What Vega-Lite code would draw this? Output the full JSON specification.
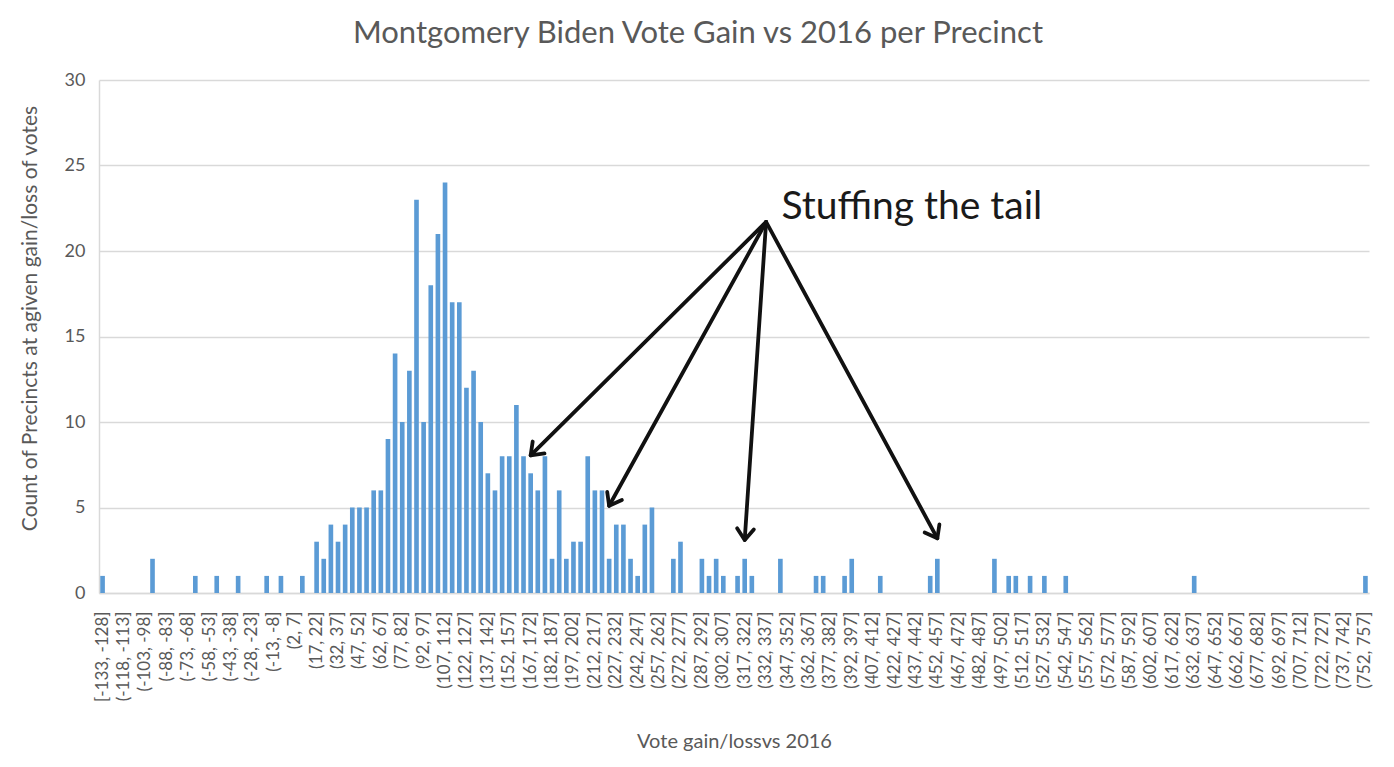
{
  "$schema": "https://vega.github.io/schema/vega-lite/v6.json",
  "width": 1270,
  "height": 513,
  "autosize": {"type": "none"},
  "padding": {"left": 99, "top": 80, "right": 25, "bottom": 174},
  "background": "white",
  "config": {"view": {"stroke": null}, "font": "Lato"},
  "title": {"text": "Montgomery Biden Vote Gain vs 2016 per Precinct", "font": "Lato", "fontSize": 31, "fontWeight": "normal", "color": "#595959", "dx": -36, "dy": 25, "offset": 22, "baseline": "alphabetic"},
  "encoding": {
    "x": {"field": "lo", "type": "ordinal", "sort": "ascending",
      "scale": {"paddingInner": 0.35, "paddingOuter": 0.175},
      "axis": {"labelAngle": -90, "labelFont": "Lato", "labelFontSize": 17, "labelColor": "#595959", "labelPadding": 18, "ticks": false, "domainColor": "#d9d9d9", "domainWidth": 1.5, "labelOverlap": false, "labelBound": false, "grid": false,
        "labelExpr": "(datum.value + 133) % 15 == 0 ? (datum.value == -133 ? '[' : '(') + datum.value + ', ' + (datum.value + 5) + ']' : ''",
        "title": "Vote gain/lossvs 2016", "titleFont": "Lato", "titleFontSize": 20, "titleFontWeight": "normal", "titleColor": "#595959", "titlePadding": 30}},
    "y": {"field": "n", "type": "quantitative",
      "scale": {"domain": [0, 30], "nice": false},
      "axis": {"values": [0, 5, 10, 15, 20, 25, 30], "grid": true, "gridColor": "#d9d9d9", "gridWidth": 1.5, "domainColor": "#d9d9d9", "domainWidth": 1.5, "ticks": false, "labelFont": "Lato", "labelFontSize": 18, "labelColor": "#595959", "labelPadding": 14,
        "title": "Count of Precincts at agiven gain/loss of votes", "titleFont": "Lato", "titleFontSize": 21, "titleFontWeight": "normal", "titleColor": "#595959", "titlePadding": 24, "titleY": 238}}
  },
  "layer": [
    {
      "data": {"values": [
        {"lo": -133, "n": 1}, {"lo": -128, "n": 0}, {"lo": -123, "n": 0}, {"lo": -118, "n": 0}, {"lo": -113, "n": 0}, {"lo": -108, "n": 0}, {"lo": -103, "n": 0}, {"lo": -98, "n": 2}, {"lo": -93, "n": 0}, {"lo": -88, "n": 0},
        {"lo": -83, "n": 0}, {"lo": -78, "n": 0}, {"lo": -73, "n": 0}, {"lo": -68, "n": 1}, {"lo": -63, "n": 0}, {"lo": -58, "n": 0}, {"lo": -53, "n": 1}, {"lo": -48, "n": 0}, {"lo": -43, "n": 0}, {"lo": -38, "n": 1},
        {"lo": -33, "n": 0}, {"lo": -28, "n": 0}, {"lo": -23, "n": 0}, {"lo": -18, "n": 1}, {"lo": -13, "n": 0}, {"lo": -8, "n": 1}, {"lo": -3, "n": 0}, {"lo": 2, "n": 0}, {"lo": 7, "n": 1}, {"lo": 12, "n": 0},
        {"lo": 17, "n": 3}, {"lo": 22, "n": 2}, {"lo": 27, "n": 4}, {"lo": 32, "n": 3}, {"lo": 37, "n": 4}, {"lo": 42, "n": 5}, {"lo": 47, "n": 5}, {"lo": 52, "n": 5}, {"lo": 57, "n": 6}, {"lo": 62, "n": 6},
        {"lo": 67, "n": 9}, {"lo": 72, "n": 14}, {"lo": 77, "n": 10}, {"lo": 82, "n": 13}, {"lo": 87, "n": 23}, {"lo": 92, "n": 10}, {"lo": 97, "n": 18}, {"lo": 102, "n": 21}, {"lo": 107, "n": 24}, {"lo": 112, "n": 17},
        {"lo": 117, "n": 17}, {"lo": 122, "n": 12}, {"lo": 127, "n": 13}, {"lo": 132, "n": 10}, {"lo": 137, "n": 7}, {"lo": 142, "n": 6}, {"lo": 147, "n": 8}, {"lo": 152, "n": 8}, {"lo": 157, "n": 11}, {"lo": 162, "n": 8},
        {"lo": 167, "n": 7}, {"lo": 172, "n": 6}, {"lo": 177, "n": 8}, {"lo": 182, "n": 2}, {"lo": 187, "n": 6}, {"lo": 192, "n": 2}, {"lo": 197, "n": 3}, {"lo": 202, "n": 3}, {"lo": 207, "n": 8}, {"lo": 212, "n": 6},
        {"lo": 217, "n": 6}, {"lo": 222, "n": 2}, {"lo": 227, "n": 4}, {"lo": 232, "n": 4}, {"lo": 237, "n": 2}, {"lo": 242, "n": 1}, {"lo": 247, "n": 4}, {"lo": 252, "n": 5}, {"lo": 257, "n": 0}, {"lo": 262, "n": 0},
        {"lo": 267, "n": 2}, {"lo": 272, "n": 3}, {"lo": 277, "n": 0}, {"lo": 282, "n": 0}, {"lo": 287, "n": 2}, {"lo": 292, "n": 1}, {"lo": 297, "n": 2}, {"lo": 302, "n": 1}, {"lo": 307, "n": 0}, {"lo": 312, "n": 1},
        {"lo": 317, "n": 2}, {"lo": 322, "n": 1}, {"lo": 327, "n": 0}, {"lo": 332, "n": 0}, {"lo": 337, "n": 0}, {"lo": 342, "n": 2}, {"lo": 347, "n": 0}, {"lo": 352, "n": 0}, {"lo": 357, "n": 0}, {"lo": 362, "n": 0},
        {"lo": 367, "n": 1}, {"lo": 372, "n": 1}, {"lo": 377, "n": 0}, {"lo": 382, "n": 0}, {"lo": 387, "n": 1}, {"lo": 392, "n": 2}, {"lo": 397, "n": 0}, {"lo": 402, "n": 0}, {"lo": 407, "n": 0}, {"lo": 412, "n": 1},
        {"lo": 417, "n": 0}, {"lo": 422, "n": 0}, {"lo": 427, "n": 0}, {"lo": 432, "n": 0}, {"lo": 437, "n": 0}, {"lo": 442, "n": 0}, {"lo": 447, "n": 1}, {"lo": 452, "n": 2}, {"lo": 457, "n": 0}, {"lo": 462, "n": 0},
        {"lo": 467, "n": 0}, {"lo": 472, "n": 0}, {"lo": 477, "n": 0}, {"lo": 482, "n": 0}, {"lo": 487, "n": 0}, {"lo": 492, "n": 2}, {"lo": 497, "n": 0}, {"lo": 502, "n": 1}, {"lo": 507, "n": 1}, {"lo": 512, "n": 0},
        {"lo": 517, "n": 1}, {"lo": 522, "n": 0}, {"lo": 527, "n": 1}, {"lo": 532, "n": 0}, {"lo": 537, "n": 0}, {"lo": 542, "n": 1}, {"lo": 547, "n": 0}, {"lo": 552, "n": 0}, {"lo": 557, "n": 0}, {"lo": 562, "n": 0},
        {"lo": 567, "n": 0}, {"lo": 572, "n": 0}, {"lo": 577, "n": 0}, {"lo": 582, "n": 0}, {"lo": 587, "n": 0}, {"lo": 592, "n": 0}, {"lo": 597, "n": 0}, {"lo": 602, "n": 0}, {"lo": 607, "n": 0}, {"lo": 612, "n": 0},
        {"lo": 617, "n": 0}, {"lo": 622, "n": 0}, {"lo": 627, "n": 0}, {"lo": 632, "n": 1}, {"lo": 637, "n": 0}, {"lo": 642, "n": 0}, {"lo": 647, "n": 0}, {"lo": 652, "n": 0}, {"lo": 657, "n": 0}, {"lo": 662, "n": 0},
        {"lo": 667, "n": 0}, {"lo": 672, "n": 0}, {"lo": 677, "n": 0}, {"lo": 682, "n": 0}, {"lo": 687, "n": 0}, {"lo": 692, "n": 0}, {"lo": 697, "n": 0}, {"lo": 702, "n": 0}, {"lo": 707, "n": 0}, {"lo": 712, "n": 0},
        {"lo": 717, "n": 0}, {"lo": 722, "n": 0}, {"lo": 727, "n": 0}, {"lo": 732, "n": 0}, {"lo": 737, "n": 0}, {"lo": 742, "n": 0}, {"lo": 747, "n": 0}, {"lo": 752, "n": 1}
      ]},
      "mark": {"type": "bar", "color": "#5b9bd5"}
    },
    {
      "data": {"values": [
        {"arrow": "a", "lo": 332, "n": 21.7}, {"arrow": "a", "lo": 167, "n": 8.05},
        {"arrow": "b", "lo": 332, "n": 21.7}, {"arrow": "b", "lo": 222, "n": 5.1},
        {"arrow": "c", "lo": 332, "n": 21.7}, {"arrow": "c", "lo": 317, "n": 3.1},
        {"arrow": "d", "lo": 332, "n": 21.7}, {"arrow": "d", "lo": 452, "n": 3.2}
      ]},
      "mark": {"type": "line", "color": "#111111", "strokeWidth": 3.8, "strokeCap": "round"},
      "encoding": {"detail": {"field": "arrow", "type": "nominal"}}
    },
    {
      "data": {"values": [{"lo": 167, "n": 8.05}]},
      "mark": {"type": "point", "shape": "M-1,-0.75L0,0L-1,0.75", "filled": false, "stroke": "#111111", "strokeWidth": 3.8, "size": 500, "angle": 135.3, "opacity": 1, "strokeCap": "round", "strokeJoin": "round"}
    },
    {
      "data": {"values": [{"lo": 222, "n": 5.1}]},
      "mark": {"type": "point", "shape": "M-1,-0.75L0,0L-1,0.75", "filled": false, "stroke": "#111111", "strokeWidth": 3.8, "size": 500, "angle": 118.9, "opacity": 1, "strokeCap": "round", "strokeJoin": "round"}
    },
    {
      "data": {"values": [{"lo": 317, "n": 3.1}]},
      "mark": {"type": "point", "shape": "M-1,-0.75L0,0L-1,0.75", "filled": false, "stroke": "#111111", "strokeWidth": 3.8, "size": 500, "angle": 93.9, "opacity": 1, "strokeCap": "round", "strokeJoin": "round"}
    },
    {
      "data": {"values": [{"lo": 452, "n": 3.2}]},
      "mark": {"type": "point", "shape": "M-1,-0.75L0,0L-1,0.75", "filled": false, "stroke": "#111111", "strokeWidth": 3.8, "size": 500, "angle": 61.6, "opacity": 1, "strokeCap": "round", "strokeJoin": "round"}
    },
    {
      "data": {"values": [{"lo": 342, "n": 21.9, "label": "Stuffing the tail"}]},
      "mark": {"type": "text", "align": "left", "baseline": "alphabetic", "font": "Lato", "fontSize": 39, "color": "#1a1a1a", "dx": 1},
      "encoding": {"text": {"field": "label"}}
    }
  ]
}
